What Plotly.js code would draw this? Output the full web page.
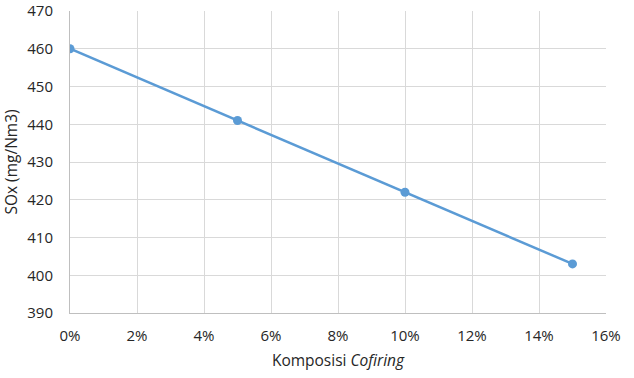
<!DOCTYPE html>
<html><head><meta charset="utf-8">
<script src="https://cdn.plot.ly/plotly-3.0.1.min.js"></script>
<style>body{margin:0;padding:0;background:#fff}#chart{width:634px;height:378px}</style>
</head><body><div id="chart"></div>
<script>
const cofiring = [0, 0.05, 0.10, 0.15];
const sox = [460, 441, 422, 403];
const xTitle = 'Komposisi <i>Cofiring</i>';
const yTitle = 'SOx (mg/Nm3)';

const font = {family: '"Open Sans", sans-serif', size: 15, color: '#262626'};
const tfont = {family: '"Open Sans", sans-serif', size: 15.5, color: '#262626'};
Plotly.newPlot('chart', [{
  x: cofiring, y: sox, type: 'scatter', mode: 'lines+markers',
  line: {color: '#5B9BD5', width: 2.5},
  marker: {color: '#5B9BD5', size: 9},
  showlegend: false
}], {
  width: 634, height: 378,
  margin: {l: 70, r: 28, t: 11, b: 65},
  paper_bgcolor: '#fff', plot_bgcolor: '#fff',
  font: font,
  xaxis: {
    range: [0, 0.16], dtick: 0.02, tick0: 0, tickformat: '.0%',
    showgrid: true, gridcolor: '#D9D9D9', gridwidth: 1,
    showline: true, linecolor: '#BFBFBF', linewidth: 1, zeroline: false,
    ticks: '', ticklabelstandoff: 9,
    title: {text: xTitle, font: tfont, standoff: 11}
  },
  yaxis: {
    range: [390, 470], dtick: 10, tick0: 390,
    showgrid: true, gridcolor: '#D9D9D9', gridwidth: 1,
    showline: true, linecolor: '#BFBFBF', linewidth: 1, zeroline: false,
    ticks: '', ticklabelstandoff: 13,
    title: {text: yTitle, font: tfont, standoff: 8}
  }
}, {displayModeBar: false, staticPlot: true});
</script></body></html>
